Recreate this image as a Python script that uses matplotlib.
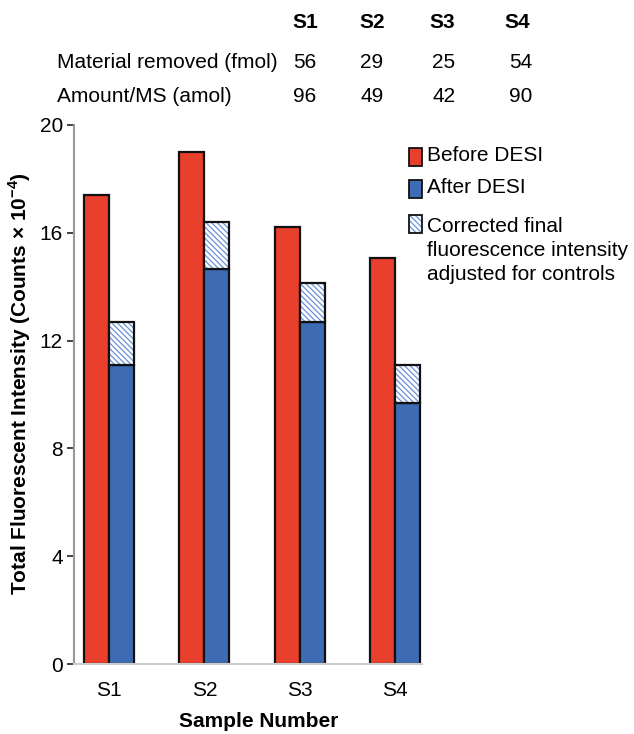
import numpy as np
import matplotlib
matplotlib.use("Agg")
import matplotlib.pyplot as plt
from matplotlib.patches import Rectangle

plt.rcParams['font.family'] = ['Liberation Sans', 'DejaVu Sans']
plt.rcParams['mathtext.fontset'] = 'custom'
plt.rcParams['mathtext.rm'] = 'Liberation Sans'
plt.rcParams['mathtext.bf'] = 'Liberation Sans:bold'
plt.rcParams['hatch.linewidth'] = 0.9

# data
samples = ["S1", "S2", "S3", "S4"]
before = [17.4, 19.0, 16.2, 15.05]
after = [11.1, 14.65, 12.7, 9.7]
corrected_top = [12.7, 16.4, 14.15, 11.1]
material_removed = [56, 29, 25, 54]
amount_ms = [96, 49, 42, 90]
yticks = [0, 4, 8, 12, 16, 20]

red = "#e8402d"
blue = "#3e6cb4"
hatch_blue = "#6a92d6"
fs = 15

fig = plt.figure(figsize=(6.34, 7.34), dpi=100)
ax = fig.add_axes([74 / 634, 70 / 734, 348 / 634, 539 / 734])

x = np.arange(len(samples))
w = 0.262
corr = np.array(corrected_top) - np.array(after)

ax.bar(x - w / 2, before, w, color=red, edgecolor="#111111", linewidth=1.6)
ax.bar(x + w / 2, after, w, color=blue, edgecolor="#111111", linewidth=1.6)
# hatched cap: blue hatch lines, then black outline on top
ax.bar(x + w / 2, corr, w, bottom=after, color="white", edgecolor=hatch_blue,
       hatch="\\\\\\\\\\\\", linewidth=0)
ax.bar(x + w / 2, corr, w, bottom=after, fill=False, edgecolor="#111111", linewidth=1.6)

ax.set_xlim(-0.367, 3.28)
ax.set_ylim(0, 20)
ax.set_yticks(yticks)
ax.set_xticks(x)
ax.set_xticklabels(samples, fontsize=fs)
ax.tick_params(axis='x', length=0, pad=12)
ax.tick_params(axis='y', length=5, width=1.2, color="#222222", labelsize=fs, pad=3)

for s in ["top", "right"]:
    ax.spines[s].set_visible(False)
ax.spines["left"].set_color("#999999")
ax.spines["left"].set_linewidth(1.5)
ax.spines["bottom"].set_color("#cccccc")
ax.spines["bottom"].set_linewidth(1.5)

ax.set_xlabel("Sample Number", fontsize=fs, fontweight="bold")
ax.xaxis.set_label_coords(185 / 348, -48 / 539)
ax.set_ylabel(r"Total Fluorescent Intensity (Counts × 10$^{\mathbf{-4}}$)",
              fontsize=fs, fontweight="bold")
ax.yaxis.set_label_coords(-41 / 348, 0.52)

# legend drawn by hand
W, H = 634, 734
leg = [(red, None, 157, 157, "Before DESI"),
       (blue, None, 189, 189, "After DESI"),
       ("white", hatch_blue, 224, 228, "Corrected final\nfluorescence intensity\nadjusted for controls")]
for fc, hc, yc, yt, label in leg:
    r = Rectangle((409 / W, 1 - (yc + 9) / H), 13 / W, 18 / H, transform=fig.transFigure,
                  facecolor=fc, edgecolor="#111111", linewidth=1.3)
    if hc is not None:
        rh = Rectangle((409 / W, 1 - (yc + 9) / H), 13 / W, 18 / H, transform=fig.transFigure,
                       facecolor="white", edgecolor=hc, hatch="\\\\\\\\\\\\", linewidth=0)
        fig.patches.append(rh)
        r.set_facecolor("none")
    fig.patches.append(r)
    fig.text(427 / W, 1 - (yt - 11) / H, label, fontsize=fs, va="top", ha="left",
             linespacing=1.33)

# table above the chart
col_x = [305, 372, 442, 517]
for cx, s in zip(col_x, samples):
    fig.text(cx / W, 1 - 22 / H, s, fontsize=fs, fontweight="bold", ha="center", va="center")
fig.text(57 / W, 1 - 62 / H, "Material removed (fmol)", fontsize=fs, ha="left", va="center")
fig.text(57 / W, 1 - 97 / H, "Amount/MS (amol)", fontsize=fs, ha="left", va="center")
val_x = [305, 372, 444, 521]
for cx, a, b in zip(val_x, material_removed, amount_ms):
    fig.text(cx / W, 1 - 62 / H, str(a), fontsize=fs, ha="center", va="center")
    fig.text(cx / W, 1 - 97 / H, str(b), fontsize=fs, ha="center", va="center")

fig.savefig("out.png", dpi=100)
